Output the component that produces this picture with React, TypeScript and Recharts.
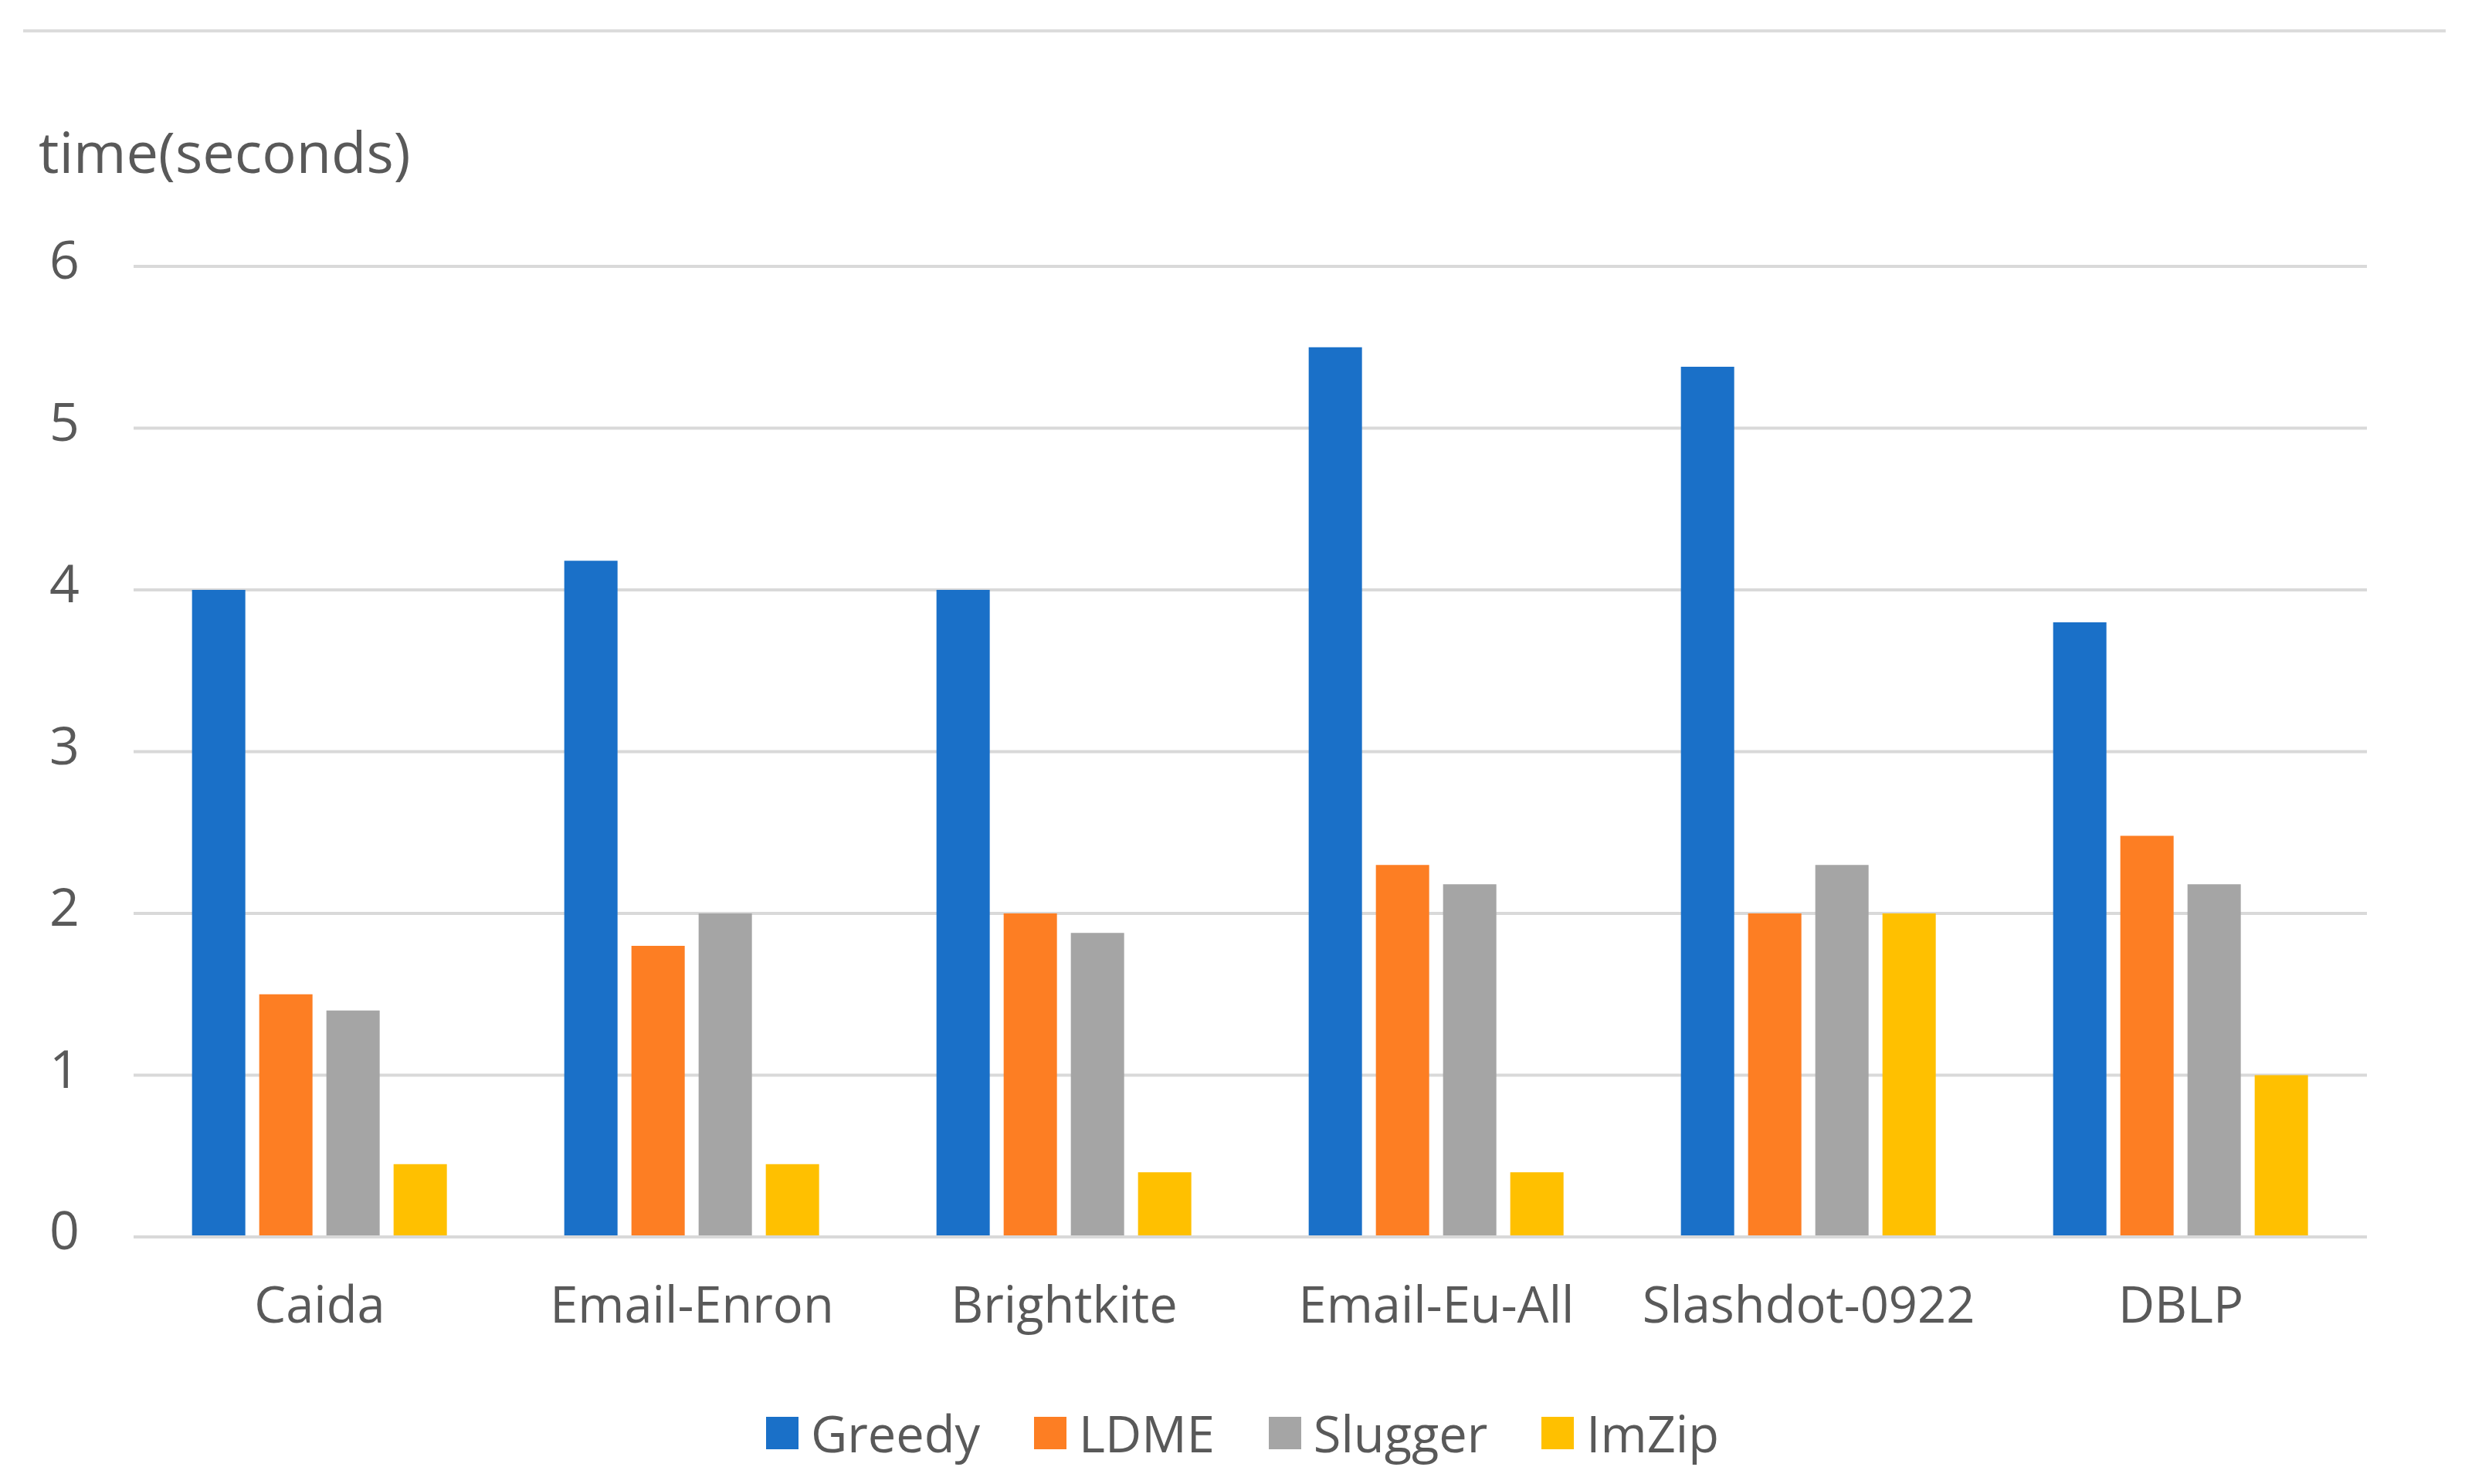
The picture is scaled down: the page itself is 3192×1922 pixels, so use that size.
import { BarChart, Bar, XAxis, YAxis, CartesianGrid, Legend } from 'recharts'

const datasets = ['Caida', 'Email-Enron', 'Brightkite', 'Email-Eu-All', 'Slashdot-0922', 'DBLP']
const greedy = [4.0, 4.18, 4.0, 5.5, 5.38, 3.8]
const ldme = [1.5, 1.8, 2.0, 2.3, 2.0, 2.48]
const slugger = [1.4, 2.0, 1.88, 2.18, 2.3, 2.18]
const imzip = [0.45, 0.45, 0.4, 0.4, 2.0, 1.0]
const yTicks = [0, 1, 2, 3, 4, 5, 6]

const SERIES = [
  { key: 'Greedy', color: '#1a70c8' },
  { key: 'LDME', color: '#fd7e23' },
  { key: 'Slugger', color: '#a5a5a5' },
  { key: 'ImZip', color: '#ffc000' },
]

const data = datasets.map((name, i) => ({
  name,
  Greedy: greedy[i],
  LDME: ldme[i],
  Slugger: slugger[i],
  ImZip: imzip[i],
}))

const FONT = '"Open Sans", "Noto Sans", sans-serif'
const TEXT = '#595959'

// keep series order (recharts sorts legend items by name otherwise)
const order = (v: string) => SERIES.findIndex((s) => s.key === v)

const LegendContent = ({ payload }: any) => {
  const items = [...(payload || [])].sort((a: any, b: any) => order(a.value) - order(b.value))
  return (
    <div style={{ display: 'flex', justifyContent: 'center', alignItems: 'center', fontFamily: FONT, fontSize: 65, color: TEXT }}>
      {items.map((p: any, i: number) => (
        <div key={p.value} style={{ display: 'flex', alignItems: 'center', marginRight: i < items.length - 1 ? 70 : 0 }}>
          <span style={{ width: 42, height: 42, background: p.color, display: 'inline-block', marginRight: 16 }} />
          <span>{p.value}</span>
        </div>
      ))}
    </div>
  )
}

export default function App() {
  return (
    <div style={{ position: 'absolute', left: 0, top: 0, width: 3192, height: 1922, background: '#fff' }}>
      <div style={{ position: 'absolute', left: 30, top: 38, width: 3137, height: 4, background: '#dcdcdc' }} />
      <div style={{ position: 'absolute', left: 50, top: 156, fontFamily: FONT, fontSize: 74, color: TEXT, lineHeight: '80px' }}>
        time(seconds)
      </div>
      <BarChart
        width={3192}
        height={1922}
        data={data}
        margin={{ top: 345, right: 127, bottom: 0, left: 0 }}
        barCategoryGap="15.7%"
        barGap={18}
      >
        <CartesianGrid vertical={false} stroke="#d9d9d9" strokeWidth={4} />
        <XAxis
          dataKey="name"
          height={230}
          axisLine={{ stroke: '#d9d9d9', strokeWidth: 4 }}
          tickLine={false}
          tickMargin={59}
          tick={{ fill: TEXT, fontSize: 65, fontFamily: FONT }}
          interval={0}
        />
        <YAxis
          width={173}
          domain={[0, 6]}
          ticks={yTicks}
          axisLine={false}
          tickLine={false}
          tickMargin={64}
          tick={{ fill: TEXT, fontSize: 68, fontFamily: FONT, dy: -8 }}
        />
        <Legend
          verticalAlign="bottom"
          height={90}
          content={<LegendContent />}
          wrapperStyle={{ left: 26, width: 3166, bottom: 20 }}
        />
        {SERIES.map((s) => (
          <Bar key={s.key} dataKey={s.key} fill={s.color} isAnimationActive={false} />
        ))}
      </BarChart>
    </div>
  )
}
